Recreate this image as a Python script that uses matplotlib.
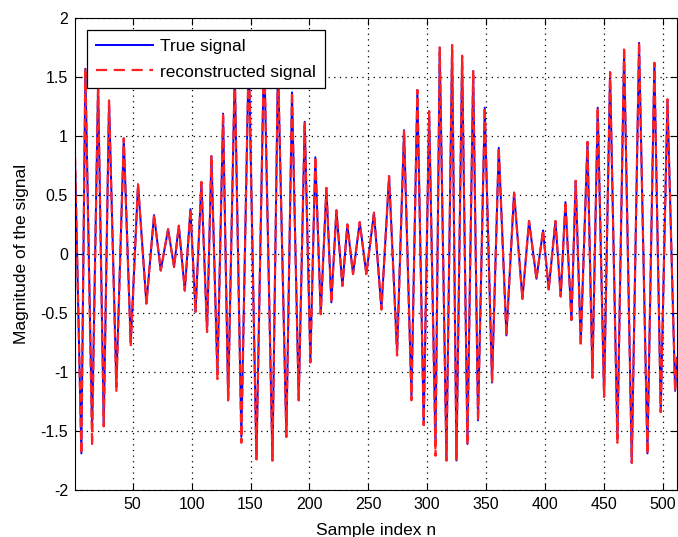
import numpy as np
import matplotlib
matplotlib.use("Agg")
import matplotlib.pyplot as plt

# sample positions of the turning points
sample_n = [1, 6.4, 9.8, 15.5, 20.6, 25.4, 29.9, 36.1, 42.4, 48.3, 54.5, 61.6, 68.1, 73.8, 80, 85.1,
            89.1, 94.2, 99, 103.3, 108.3, 113.1, 116.8, 121.9, 126.7, 131, 136.6, 142.2, 148.5, 155, 161.5, 168.6,
            173.3, 180.4, 185.2, 190.9, 196, 200.8, 205, 209.6, 214.4, 218.6, 222.9, 228, 232.2, 237, 242.7, 248.3, 254.8,
            261.1, 267.6, 274.4, 280.3, 286.6, 291.6, 297, 301.6, 307, 310.6, 316.3, 321.1, 324.8, 329.6, 334.1, 339,
            343.1, 348.8, 355, 360.7, 367.2, 373.7, 380.8, 386.4, 392.7, 398.3, 403.1, 408.8, 413.3, 417.3, 422.4,
            426, 430.3, 436, 440.2, 444.7, 450.1, 455.2, 461.4, 467.1, 473.6, 479.8, 486.9, 492.8, 498.2, 503.9, 510.4, 512]

true_sig = [0.82, -1.69, 1.57, -1.50, 1.44, -1.46, 1.30, -1.10, 0.98, -0.76, 0.59, -0.42, 0.33, -0.14, 0.21, -0.11,
            0.24, -0.31, 0.38, -0.49, 0.61, -0.66, 0.83, -1.02, 1.19, -1.24, 1.55, -1.55, 1.72, -1.74, 1.76, -1.75,
            1.62, -1.55, 1.37, -1.24, 1.12, -0.90, 0.82, -0.51, 0.56, -0.41, 0.37, -0.27, 0.25, -0.17, 0.27, -0.17, 0.35,
            -0.47, 0.66, -0.83, 1.05, -1.21, 1.39, -1.45, 1.21, -1.62, 1.75, -1.75, 1.77, -1.75, 1.68, -1.61, 1.55,
            -1.41, 1.24, -1.09, 0.90, -0.69, 0.52, -0.38, 0.28, -0.21, 0.20, -0.30, 0.28, -0.36, 0.44, -0.56,
            0.62, -0.75, 0.95, -1.02, 1.24, -1.21, 1.54, -1.57, 1.72, -1.77, 1.79, -1.69, 1.62, -1.34, 1.31, -1.16, -0.88]

recon_sig = [0.82, -1.69, 1.57, -1.62, 1.44, -1.46, 1.30, -1.16, 0.98, -0.78, 0.59, -0.42, 0.33, -0.14, 0.21, -0.11,
             0.24, -0.31, 0.38, -0.49, 0.61, -0.66, 0.83, -1.06, 1.19, -1.24, 1.55, -1.60, 1.72, -1.74, 1.76, -1.75,
             1.62, -1.55, 1.37, -1.24, 1.12, -0.92, 0.82, -0.51, 0.56, -0.41, 0.37, -0.27, 0.25, -0.17, 0.27, -0.17, 0.35,
             -0.47, 0.66, -0.86, 1.05, -1.24, 1.39, -1.45, 1.21, -1.71, 1.75, -1.75, 1.77, -1.75, 1.68, -1.61, 1.55,
             -1.41, 1.24, -1.09, 0.90, -0.69, 0.52, -0.38, 0.28, -0.21, 0.20, -0.30, 0.28, -0.36, 0.44, -0.56,
             0.62, -0.78, 0.95, -1.05, 1.24, -1.21, 1.54, -1.60, 1.75, -1.77, 1.79, -1.69, 1.62, -1.34, 1.31, -1.16, -0.88]

x_ticks = [50, 100, 150, 200, 250, 300, 350, 400, 450, 500]
y_ticks = [-2, -1.5, -1, -0.5, 0, 0.5, 1, 1.5, 2]
y_tick_labels = ["-2", "-1.5", "-1", "-0.5", "0", "0.5", "1", "1.5", "2"]

plt.rcParams['font.family'] = ['Liberation Sans', 'DejaVu Sans']

def main():
    fig = plt.figure(figsize=(6.78, 5.37), dpi=100)
    ax = fig.add_axes([75 / 678, 47 / 537, 602 / 678, 472 / 537])

    ax.plot(sample_n, true_sig, color='#0000ff', linewidth=1.4, label='True signal')
    ax.plot(sample_n, recon_sig, color='#ff2020', linestyle=(0, (4, 1.6)), linewidth=1.6,
            label='reconstructed signal')

    ax.set_xlim(1, 512)
    ax.set_ylim(-2, 2)
    ax.set_xticks(x_ticks)
    ax.set_yticks(y_ticks)
    ax.set_yticklabels(y_tick_labels)
    ax.tick_params(direction='in', top=True, right=True, labelsize=11.5, length=5, pad=5)
    ax.grid(True, color='black', linestyle=(0, (1, 3.5)), linewidth=0.9)
    for sp in ax.spines.values():
        sp.set_linewidth(0.8)

    ax.set_xlabel('Sample index n', fontsize=12.5, labelpad=8)
    ax.set_ylabel('Magnitude of the signal', fontsize=12.5, labelpad=8)

    leg = ax.legend(loc='upper left', fontsize=12.5, fancybox=False, framealpha=1,
                    edgecolor='black', borderaxespad=0.7, handlelength=3.3,
                    handletextpad=0.4, borderpad=0.5, labelspacing=0.6)
    leg.get_frame().set_linewidth(0.9)
    leg.get_lines()[1].set_linestyle((0, (5, 3)))

    fig.savefig('out.png', dpi=100)

if __name__ == "__main__":
    main()
